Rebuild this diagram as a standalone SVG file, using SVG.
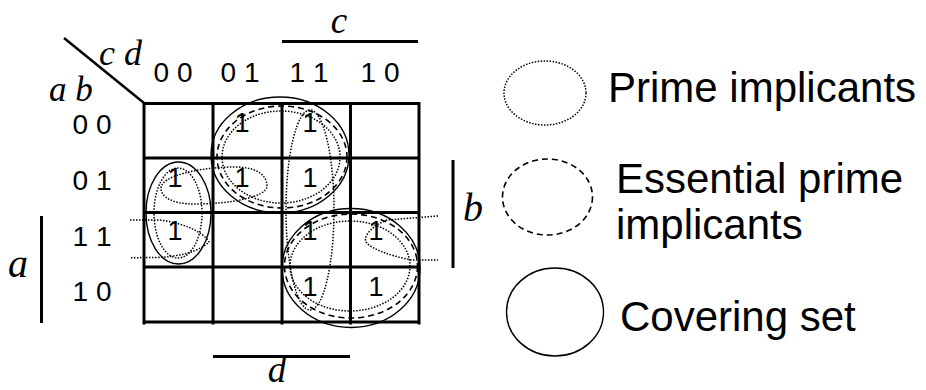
<svg xmlns="http://www.w3.org/2000/svg" width="926" height="390" viewBox="0 0 926 390">
<style>
.bg{fill:#fff}
.grid{stroke:#000;stroke-width:3;fill:none;stroke-linecap:square}
.bar{stroke:#000;stroke-width:3;fill:none}
.num{font-family:"Liberation Sans",Arial,sans-serif;font-size:28px;fill:#000;text-anchor:middle}
.one{font-family:"Liberation Sans",Arial,sans-serif;font-size:27px;fill:#000;text-anchor:middle}
.var{font-family:"Liberation Serif","Times New Roman",serif;font-style:italic;fill:#000}
.leg{font-family:"Liberation Sans",Arial,sans-serif;font-size:42px;fill:#000}
.solid{fill:none;stroke:#000;stroke-width:1.4}
.dash{fill:none;stroke:#000;stroke-width:1.6;stroke-dasharray:6 4}
.dot{fill:none;stroke:#000;stroke-width:1.5;stroke-dasharray:1.5 1.5}
</style>
<rect class="bg" x="0" y="0" width="926" height="390"/>

<g id="labels">
  <line class="bar" x1="64" y1="38" x2="144" y2="103" style="stroke-width:2.5"/>
  <text class="var" x="99" y="65" font-size="36" xml:space="preserve">c d</text>
  <text class="var" x="49" y="101" font-size="35" xml:space="preserve">a b</text>
  <text class="num" x="173" y="82" xml:space="preserve">0 0</text>
  <text class="num" x="240" y="82" xml:space="preserve">0 1</text>
  <text class="num" x="309" y="82" xml:space="preserve">1 1</text>
  <text class="num" x="380" y="82" xml:space="preserve">1 0</text>
  <text class="num" x="92" y="134" xml:space="preserve">0 0</text>
  <text class="num" x="92" y="190" xml:space="preserve">0 1</text>
  <text class="num" x="92" y="246" xml:space="preserve">1 1</text>
  <text class="num" x="92" y="301" xml:space="preserve">1 0</text>
  <line class="bar" x1="282" y1="41.5" x2="418" y2="41.5"/>
  <text class="var" x="339" y="33" font-size="37" text-anchor="middle">c</text>
  <line class="bar" x1="213" y1="356.5" x2="350" y2="356.5"/>
  <text class="var" x="277" y="382" font-size="37" text-anchor="middle">d</text>
  <line class="bar" x1="41.5" y1="216" x2="41.5" y2="323"/>
  <text class="var" x="8" y="277" font-size="40">a</text>
  <line class="bar" x1="453" y1="160" x2="453" y2="268"/>
  <text class="var" x="463" y="221" font-size="40">b</text>
</g>

<g id="kmap">
  <path class="grid" d="M144,103.5H419M144,158H419M144,212.5H419M144,267H419M144,322H419M144,103.5V323M213,103.5V323M282,103.5V323M350.5,103.5V323M419,103.5V323"/>
  <text class="one" x="242" y="132">1</text>
  <text class="one" x="310" y="132">1</text>
  <text class="one" x="175" y="187">1</text>
  <text class="one" x="242" y="187">1</text>
  <text class="one" x="310" y="187">1</text>
  <text class="one" x="175" y="240">1</text>
  <text class="one" x="310" y="240">1</text>
  <text class="one" x="376" y="240">1</text>
  <text class="one" x="310" y="296">1</text>
  <text class="one" x="376" y="296">1</text>
</g>

<g id="groups">
  <ellipse class="solid" cx="280" cy="155" rx="69" ry="58"/>
  <ellipse class="dash" cx="282" cy="157" rx="65" ry="51"/>
  <ellipse class="dot" cx="281" cy="157" rx="59" ry="46"/>
  <ellipse class="solid" cx="351" cy="268" rx="69" ry="59.5"/>
  <ellipse class="dash" cx="351" cy="266" rx="66.5" ry="52"/>
  <ellipse class="dot" cx="350" cy="266" rx="60" ry="45"/>
  <ellipse class="solid" cx="178.5" cy="213" rx="32.5" ry="51"/>
  <ellipse class="dot" cx="178" cy="213" rx="24" ry="45"/>
  <path class="dot" d="M161,188 C161,176 200,167 235,167 C258,167 267,176 267,186 C267,197 230,204 195,204 C172,204 161,197 161,188 Z"/>
  <ellipse class="dot" cx="310" cy="210" rx="24" ry="100"/>
  <path class="dot" d="M130,220 L160,220 C182,223 203,231 209,242 C200,251 180,257 155,257.5 L130,257.7"/>
  <path class="dot" d="M438,216 L387,220 C372,226 363,236 366,242 C372,250 395,257 412,260 L438,260"/>
</g>

<g id="legend-prime">
  <ellipse class="dot" cx="545" cy="93" rx="41" ry="32"/>
  <text class="leg" x="608" y="102">Prime implicants</text>
</g>
<g id="legend-essential">
  <ellipse class="dash" cx="547.5" cy="197" rx="45" ry="38"/>
  <text class="leg" x="616" y="193">Essential prime</text>
  <text class="leg" x="616" y="239">implicants</text>
</g>
<g id="legend-cover">
  <ellipse class="solid" cx="555" cy="312" rx="48.5" ry="44"/>
  <text class="leg" x="620" y="331">Covering set</text>
</g>
</svg>
